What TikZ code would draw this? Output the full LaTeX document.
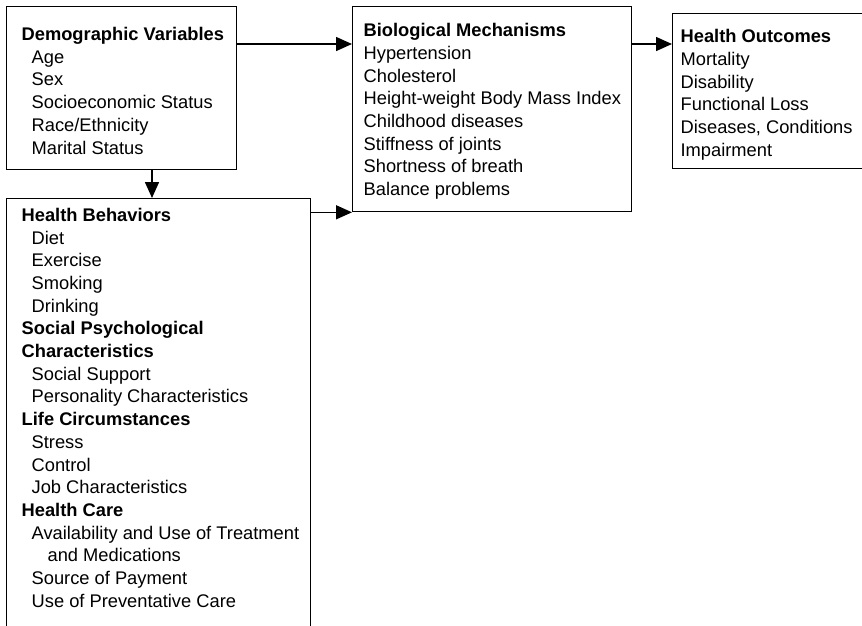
\documentclass[tikz,border=0pt]{standalone}
\usepackage{fontspec}
\setmainfont{Liberation Sans}
\usetikzlibrary{positioning,arrows.meta}
\newcommand{\boxtext}[5]{%
  \parbox[t][#2][t]{#1}{\vspace*{#3}\raggedright\leftskip=#4\strut#5}}
\newcommand{\itm}{\hspace*{10pt}}
\begin{document}
\begin{tikzpicture}[
  x=1pt, y=-1pt,
  font=\fontsize{18.3}{22.7}\selectfont,
  panel/.style={draw, line width=1.3pt, fill=white, inner sep=0pt, anchor=north west},
  arr/.style={-{Triangle[length=16pt,width=14pt]}, line width=1.5pt}
]
\useasboundingbox (0,0) rectangle (862,625);
\clip (0,0) rectangle (862,625);
\node[panel] (demo) at (6,6) {\boxtext{230pt}{163pt}{18pt}{15pt}{%
  \textbf{Demographic Variables}\\
  \itm Age\\
  \itm Sex\\
  \itm Socioeconomic Status\\
  \itm Race/Ethnicity\\
  \itm Marital Status}};
\node[panel] (bio) at (352,6) {\boxtext{279pt}{205pt}{14.1pt}{11pt}{%
  \textbf{Biological Mechanisms}\\
  Hypertension\\
  Cholesterol\\
  Height-weight Body Mass Index\\
  Childhood diseases\\
  Stiffness of joints\\
  Shortness of breath\\
  Balance problems}};
\node[panel] (out) at (672,13) {\boxtext{189.5pt}{155pt}{13.1pt}{8pt}{%
  \textbf{Health Outcomes}\\
  Mortality\\
  Disability\\
  Functional Loss\\
  Diseases, Conditions\\
  Impairment}};
\node[panel] (hb) at (6,198) {\boxtext{304pt}{432pt}{6.8pt}{15pt}{%
  \textbf{Health Behaviors}\\
  \itm Diet\\
  \itm Exercise\\
  \itm Smoking\\
  \itm Drinking\\
  \textbf{Social Psychological}\\
  \textbf{Characteristics}\\
  \itm Social Support\\
  \itm Personality Characteristics\\
  \textbf{Life Circumstances}\\
  \itm Stress\\
  \itm Control\\
  \itm Job Characteristics\\
  \textbf{Health Care}\\
  \itm Availability and Use of Treatment\\
  \hspace*{26pt}and Medications\\
  \itm Source of Payment\\
  \itm Use of Preventative Care}};
% connectors
\draw[arr] ([yshift=-38pt]demo.north east) -- ([yshift=-38pt]demo.north east -| bio.west);
\draw[arr] ([yshift=-38pt]bio.north east) -- ([yshift=-38pt]bio.north east -| out.west);
\draw[arr] ([xshift=146pt]demo.south west) -- ([xshift=146pt]demo.south west |- hb.north);
\draw[arr] (hb.east |- bio.south west) -- (bio.south west);
\end{tikzpicture}
\end{document}
